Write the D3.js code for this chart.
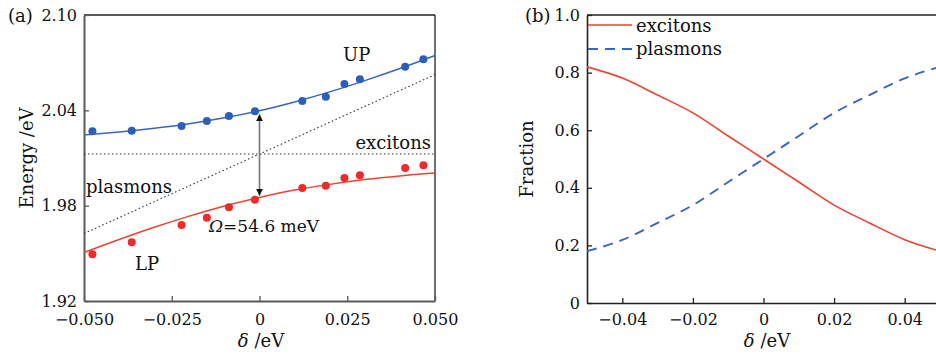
<!DOCTYPE html>
<html><head><meta charset="utf-8">
<script src="https://cdn.jsdelivr.net/npm/d3@7"></script>
<style>
html,body{margin:0;padding:0;background:#fff;}
svg{display:block;font-family:"DejaVu Serif",serif;}
</style></head>
<body>
<svg id="chart" width="936" height="358"></svg>
<script>
// ---------- Panel (a) data ----------
const upDelta = [-0.0476,-0.0364,-0.0222,-0.0150,-0.0087,-0.0013,0.0122,0.0189,0.0242,0.0286,0.0415,0.0467];
const upEnergy = [2.0268,2.0272,2.0301,2.0333,2.0364,2.0395,2.0459,2.0486,2.0566,2.0595,2.0675,2.0721];
const lpDelta = [-0.0476,-0.0364,-0.0222,-0.0150,-0.0087,-0.0013,0.0122,0.0189,0.0242,0.0286,0.0415,0.0467];
const lpEnergy = [1.9494,1.9570,1.9678,1.9724,1.9790,1.9838,1.9911,1.9926,1.9974,1.9991,2.0037,2.0054];
const fitDelta = [-0.05,-0.04,-0.03,-0.02,-0.01,0,0.01,0.02,0.03,0.04,0.05];
const upFit = [2.0245,2.0263,2.0287,2.0316,2.0353,2.0398,2.0453,2.0516,2.0587,2.0663,2.0745];
const lpFit = [1.9505,1.9587,1.9664,1.9734,1.9798,1.9852,1.9898,1.9934,1.9964,1.9987,2.0005];
const excitonLine = [[-0.05,2.0125],[0.05,2.0125]];
const plasmonLine = [[-0.05,1.9625],[0.05,2.0625]];
const arrowDelta = 0;
const arrowEnergy = [1.9862, 2.0375];
const aXTicks = [-0.05,-0.025,0,0.025,0.05];
const aXTickLabels = ["\u22120.050","\u22120.025","0","0.025","0.050"];
const aYTicks = [1.92,1.98,2.04,2.10];
const aYTickLabels = ["1.92","1.98","2.04","2.10"];

// ---------- Panel (b) data ----------
const fracDelta = [-0.05,-0.04,-0.03,-0.02,-0.01,0,0.01,0.02,0.03,0.04,0.05];
const excitonFrac = [0.82,0.781,0.722,0.66,0.58,0.5,0.42,0.34,0.278,0.22,0.18];
const plasmonFrac = [0.18,0.219,0.278,0.34,0.42,0.5,0.58,0.66,0.722,0.78,0.82];
const bXTicks = [-0.04,-0.02,0,0.02,0.04];
const bXTickLabels = ["\u22120.04","\u22120.02","0","0.02","0.04"];
const bYTicks = [0,0.2,0.4,0.6,0.8,1.0];
const bYTickLabels = ["0","0.2","0.4","0.6","0.8","1.0"];

const RED = "#ee2b2b", REDLINE = "#f0402e", BLUE = "#2d5fb8", BLUELINE = "#3765c2";

const svg = d3.select("#chart");
svg.append("rect").attr("width",936).attr("height",358).attr("fill","#fff");

// ================= Panel (a) =================
const A = {l:84, r:435, t:15, b:301};
const xa = d3.scaleLinear().domain([-0.05,0.05]).range([A.l,A.r]);
const ya = d3.scaleLinear().domain([1.92,2.10]).range([A.b,A.t]);
const ga = svg.append("g");

// frame top/right
ga.append("line").attr("x1",A.l).attr("x2",A.r).attr("y1",A.t).attr("y2",A.t).attr("stroke","#222").attr("stroke-width",1.3);
ga.append("line").attr("x1",A.r).attr("x2",A.r).attr("y1",A.t).attr("y2",A.b).attr("stroke","#222").attr("stroke-width",1.3);

const axA_x = ga.append("g").attr("transform",`translate(0,${A.b})`)
  .call(d3.axisBottom(xa).tickValues(aXTicks).tickFormat((d,i)=>aXTickLabels[i]).tickSizeInner(-5).tickSizeOuter(0).tickPadding(13));
const axA_y = ga.append("g").attr("transform",`translate(${A.l},0)`)
  .call(d3.axisLeft(ya).tickValues(aYTicks).tickFormat((d,i)=>aYTickLabels[i]).tickSizeInner(-5).tickSizeOuter(0).tickPadding(7));
[axA_x,axA_y].forEach(g=>{
  g.attr("font-family","DejaVu Serif");
  g.select(".domain").attr("stroke","#5a5a5a").attr("stroke-width",2);
  g.selectAll(".tick line").attr("stroke","#5a5a5a").attr("stroke-width",1.3);
  g.selectAll(".tick text").attr("font-size",16).attr("fill","#111");
});

const lineA = d3.line().x(d=>xa(d[0])).y(d=>ya(d[1]));
ga.append("path").attr("d",lineA(excitonLine)).attr("fill","none").attr("stroke","#333").attr("stroke-width",1.1).attr("stroke-dasharray","1.5,2.5");
ga.append("path").attr("d",lineA(plasmonLine)).attr("fill","none").attr("stroke","#333").attr("stroke-width",1.1).attr("stroke-dasharray","1.5,2.5");

const smooth = d3.line().curve(d3.curveMonotoneX).x(d=>xa(d[0])).y(d=>ya(d[1]));
ga.append("path").attr("d",smooth(fitDelta.map((d,i)=>[d,upFit[i]]))).attr("fill","none").attr("stroke",BLUELINE).attr("stroke-width",1.5);
ga.append("path").attr("d",smooth(fitDelta.map((d,i)=>[d,lpFit[i]]))).attr("fill","none").attr("stroke",REDLINE).attr("stroke-width",1.5);

// arrow
const defs = svg.append("defs");
defs.append("marker").attr("id","ah").attr("viewBox","0 0 10 10").attr("refX",10).attr("refY",5)
  .attr("markerWidth",7).attr("markerHeight",9).attr("markerUnits","userSpaceOnUse").attr("orient","auto-start-reverse")
  .append("path").attr("d","M0,0 L10,5 L0,10 Z").attr("fill","#111");
ga.append("line").attr("x1",xa(arrowDelta)).attr("x2",xa(arrowDelta))
  .attr("y1",ya(arrowEnergy[0])).attr("y2",ya(arrowEnergy[1]))
  .attr("stroke","#777").attr("stroke-width",1.6)
  .attr("marker-start","url(#ah)").attr("marker-end","url(#ah)");

ga.selectAll("circle.up").data(upDelta).join("circle").attr("class","up")
  .attr("cx",d=>xa(d)).attr("cy",(d,i)=>ya(upEnergy[i])).attr("r",4).attr("fill",BLUE);
ga.selectAll("circle.lp").data(lpDelta).join("circle").attr("class","lp")
  .attr("cx",d=>xa(d)).attr("cy",(d,i)=>ya(lpEnergy[i])).attr("r",4).attr("fill",RED);

const txt = (g,x,y,s,size,anchor)=>g.append("text").attr("x",x).attr("y",y).attr("font-size",size).attr("fill","#111").attr("text-anchor",anchor||"start").text(s);
txt(ga,343,61,"UP",18);
txt(ga,431,149,"excitons",18,"end");
txt(ga,86,193,"plasmons",18);
txt(ga,135,270,"LP",18);
const om = ga.append("text").attr("x",209).attr("y",232).attr("font-size",17).attr("fill","#111");
om.append("tspan").attr("font-style","italic").text("\u03A9");
om.append("tspan").text("=54.6 meV");
txt(ga,8,22,"(a)",18);
ga.append("text").attr("transform",`translate(33,158) rotate(-90)`).attr("text-anchor","middle").attr("font-size",18).attr("fill","#111").text("Energy /eV");
const xla = ga.append("text").attr("x",261).attr("y",347).attr("text-anchor","middle").attr("font-size",18).attr("fill","#111");
xla.append("tspan").attr("font-style","italic").text("\u03B4");
xla.append("tspan").text(" /eV");

// ================= Panel (b) =================
const B = {l:587, r:940, t:15, b:303};
const xb = d3.scaleLinear().domain([-0.05,0.05]).range([B.l,B.r]);
const yb = d3.scaleLinear().domain([0,1]).range([B.b,B.t]);
const gb = svg.append("g");
defs.append("clipPath").attr("id","clipb").append("rect").attr("x",B.l).attr("y",B.t).attr("width",B.r-B.l).attr("height",B.b-B.t);

gb.append("line").attr("x1",B.l).attr("x2",B.r).attr("y1",B.t).attr("y2",B.t).attr("stroke","#222").attr("stroke-width",1.5);
const axB_x = gb.append("g").attr("transform",`translate(0,${B.b})`)
  .call(d3.axisBottom(xb).tickValues(bXTicks).tickFormat((d,i)=>bXTickLabels[i]).tickSizeInner(-5).tickSizeOuter(0).tickPadding(11));
const axB_y = gb.append("g").attr("transform",`translate(${B.l},0)`)
  .call(d3.axisLeft(yb).tickValues(bYTicks).tickFormat((d,i)=>bYTickLabels[i]).tickSizeInner(-5).tickSizeOuter(0).tickPadding(7));
[axB_x,axB_y].forEach(g=>{
  g.attr("font-family","DejaVu Serif");
  g.select(".domain").attr("stroke","#222").attr("stroke-width",1.6);
  g.selectAll(".tick line").attr("stroke","#222").attr("stroke-width",1.3);
  g.selectAll(".tick text").attr("font-size",16).attr("fill","#111");
});

const lineB = d3.line().curve(d3.curveMonotoneX).x(d=>xb(d[0])).y(d=>yb(d[1]));
const pb = gb.append("g").attr("clip-path","url(#clipb)");
pb.append("path").attr("d",lineB(fracDelta.map((d,i)=>[d,excitonFrac[i]]))).attr("fill","none").attr("stroke",REDLINE).attr("stroke-width",1.6);
pb.append("path").attr("d",lineB(fracDelta.map((d,i)=>[d,plasmonFrac[i]]))).attr("fill","none").attr("stroke",BLUELINE).attr("stroke-width",1.9).attr("stroke-dasharray","10,7");

// legend
gb.append("line").attr("x1",588).attr("x2",632).attr("y1",25).attr("y2",25).attr("stroke",REDLINE).attr("stroke-width",1.6);
gb.append("line").attr("x1",588).attr("x2",632).attr("y1",49).attr("y2",49).attr("stroke",BLUELINE).attr("stroke-width",1.9).attr("stroke-dasharray","10,7");
txt(gb,636,32,"excitons",18);
txt(gb,636,55,"plasmons",18);

txt(gb,525,22,"(b)",18);
gb.append("text").attr("transform",`translate(533,159) rotate(-90)`).attr("text-anchor","middle").attr("font-size",18).attr("fill","#111").text("Fraction");
const xlb = gb.append("text").attr("x",767).attr("y",347).attr("text-anchor","middle").attr("font-size",18).attr("fill","#111");
xlb.append("tspan").attr("font-style","italic").text("\u03B4");
xlb.append("tspan").text(" /eV");
</script>
</body></html>
